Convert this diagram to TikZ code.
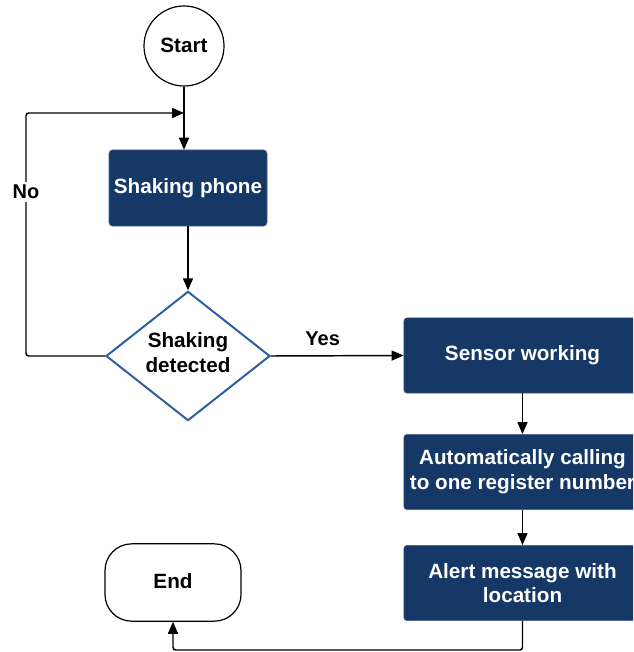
\documentclass[tikz,border=0pt]{standalone}
\usepackage{fontspec}
\setmainfont{Liberation Sans}
\usetikzlibrary{arrows.meta,shapes.geometric,positioning}
\definecolor{navy}{HTML}{163867}
\definecolor{dborder}{HTML}{2E5F9F}
\tikzset{
  base/.style={font=\bfseries\fontsize{15.5}{18.5}\selectfont, align=center, inner sep=0pt},
  procbox/.style={base, fill=navy, draw=navy!80!white, text=white, rounded corners=2.5pt,
    minimum width=178pt, minimum height=56.5pt},
  startnode/.style={base, circle, draw=black, line width=0.9pt, minimum size=60pt},
  endnode/.style={base, draw=black, line width=0.9pt, rounded corners=20pt,
    minimum width=102pt, minimum height=58pt},
  decision/.style={base, diamond, draw=dborder, line width=1.5pt, fill=white,
    minimum width=123pt, minimum height=97pt},
  lbl/.style={font=\bfseries\fontsize{15}{18}\selectfont, inner sep=1pt},
  conn/.style={line width=1.1pt, -{Triangle[length=9pt,width=7.5pt]}},
}
\begin{document}
\begin{tikzpicture}[x=0.75pt, y=-0.75pt]
  \clip (0,0) rectangle (633,652);
  \fill[white] (0,0) rectangle (633,652);

  \node[startnode] (start) at (184,46) {\raisebox{1.5pt}{Start}};
  \node[procbox, minimum width=118.5pt, minimum height=57pt] (shake) at (188,188) {Shaking phone};
  % the two-line text is smashed so the diamond keeps its set size
  \node[decision] (detect) at (188,356)
    {\smash{\raisebox{-3pt}{\begin{tabular}{@{}c@{}}Shaking\\detected\end{tabular}}}};
  \node[procbox] (sensor) at (522.5,355.5) {\raisebox{1pt}{Sensor working}};
  \node[procbox] (call) at (522.5,472) {Automatically calling\\to one register number};
  \node[procbox] (alert) at (522.5,583) {Alert message with\\location};
  \node[endnode] (end) at (173,582.5) {\raisebox{1.5pt}{End}};

  \coordinate (join) at (184,113);
  \coordinate (noleft) at (26,356);
  \coordinate (notop) at (26,113);
  \coordinate (down) at (522.5,650);
  \coordinate (endbase) at (173,650);

  % main flow
  \draw[conn] (start.south) -- (start.south |- shake.north);
  \draw[conn] (shake.south) -- (detect.north);
  \draw[conn] (detect.east) -- node[lbl, above=6pt, pos=0.39] {Yes} (sensor.west);
  \draw[conn] (sensor.south) -- (call.north);
  \draw[conn] (call.south) -- (alert.north);

  % retry loop
  \draw[conn, rounded corners=2pt] (detect.west) -- (noleft) -- (notop) -- (join);
  \node[lbl, fill=white, inner sep=2pt] (no) at (26,192) {No};

  % finish
  \draw[conn, rounded corners=2pt] (alert.south) -- (down) -- (endbase) -- (end.south);
\end{tikzpicture}
\end{document}
